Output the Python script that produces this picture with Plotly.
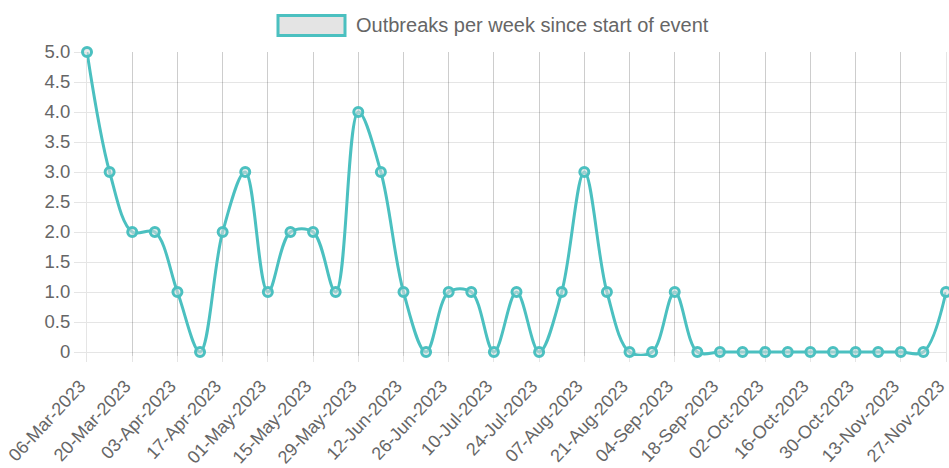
import plotly.graph_objects as go

weeks = ["06-Mar-2023","13-Mar-2023","20-Mar-2023","27-Mar-2023","03-Apr-2023","10-Apr-2023",
         "17-Apr-2023","24-Apr-2023","01-May-2023","08-May-2023","15-May-2023","22-May-2023",
         "29-May-2023","05-Jun-2023","12-Jun-2023","19-Jun-2023","26-Jun-2023","03-Jul-2023",
         "10-Jul-2023","17-Jul-2023","24-Jul-2023","31-Jul-2023","07-Aug-2023","14-Aug-2023",
         "21-Aug-2023","28-Aug-2023","04-Sep-2023","11-Sep-2023","18-Sep-2023","25-Sep-2023",
         "02-Oct-2023","09-Oct-2023","16-Oct-2023","23-Oct-2023","30-Oct-2023","06-Nov-2023",
         "13-Nov-2023","20-Nov-2023","27-Nov-2023"]
outbreaks = [5,3,2,2,1,0,2,3,1,2,2,1,4,3,1,0,1,1,0,1,0,1,3,1,0,0,1,0,0,0,0,0,0,0,0,0,0,0,1]
y_ticks = [0,0.5,1,1.5,2,2.5,3,3.5,4,4.5,5]
y_ticktext = ["0","0.5","1.0","1.5","2.0","2.5","3.0","3.5","4.0","4.5","5.0"]
series_name = "Outbreaks per week since start of event"

teal = "rgb(75,192,192)"
gray = "#666666"
grid = "rgba(0,0,0,0.1)"
idx = list(range(len(weeks)))

# plot area in pixels: x 87..946, y 52..362
L, R, T, B = 87, 946, 52, 362
W, H = 949, 468
pw, ph = R - L, B - T

fig = go.Figure()
# invisible trace that registers the grid axis pair (x, y)
fig.add_trace(go.Scatter(x=idx, y=outbreaks, mode="none", xaxis="x", yaxis="y",
                         showlegend=False, hoverinfo="skip"))
fig.add_trace(go.Scatter(
    x=idx, y=outbreaks, mode="lines+markers", xaxis="x", yaxis="y2",
    line=dict(color=teal, width=3, shape="spline", smoothing=1.0),
    marker=dict(size=9, color="rgba(220,220,220,0.55)", line=dict(color=teal, width=3)),
    showlegend=False, cliponaxis=False, name=series_name,
))

px_per_unit = 60.0
y_low = -(B - 352) / px_per_unit
clip_px = 4.0
y2_low = -clip_px / px_per_unit
dom2_low = (B - (352 + clip_px)) / ph

def px_x(p):
    return (p - L) / pw

def px_y(p):
    return (B - p) / ph

fig.add_shape(type="rect", xref="paper", yref="paper",
              x0=px_x(278), x1=px_x(345), y0=px_y(35.5), y1=px_y(15.5),
              fillcolor="rgba(228,228,228,1)", line=dict(color=teal, width=3))
fig.add_annotation(xref="paper", yref="paper", x=px_x(354), y=px_y(25),
                   xanchor="left", yanchor="middle", showarrow=False,
                   text=series_name, font=dict(size=20, color=gray))

tick_font = dict(size=18.5, color=gray)
x_tick_font = dict(size=18, color=gray)
fig.update_layout(
    width=W, height=H,
    margin=dict(l=L, r=W - R, t=T, b=H - B),
    paper_bgcolor="white", plot_bgcolor="rgba(0,0,0,0)",
    font=dict(family="Liberation Sans, Arial, sans-serif", size=18, color=gray),
    showlegend=False,
    xaxis=dict(
        range=[-0.0005, len(weeks) - 1 + 0.0005], tickmode="array",
        tickvals=idx[::2], ticktext=weeks[::2], tickangle=-47,
        showgrid=True, gridcolor=grid, gridwidth=1,
        ticks="", showline=False, zeroline=False, automargin=False,
        ticklabeloverflow="allow", ticklabelstandoff=9, ticklabelshift=-7,
        tickfont=x_tick_font, anchor="y",
    ),
    yaxis=dict(
        range=[y_low, 5], tickmode="array", tickvals=y_ticks, ticktext=y_ticktext,
        showgrid=True, gridcolor=grid, gridwidth=1,
        ticks="outside", ticklen=12, tickcolor=grid,
        showline=True, mirror=True, linecolor=grid, zeroline=False, automargin=False,
        tickfont=tick_font, domain=[0, 1], anchor="x",
    ),
    yaxis2=dict(
        range=[y2_low, 5], domain=[dom2_low, 1], anchor="x",
        visible=False, showgrid=False, zeroline=False,
    ),
)

fig.write_html("out.html", config={"displayModeBar": False},
               post_script="document.body.style.margin='0';")
